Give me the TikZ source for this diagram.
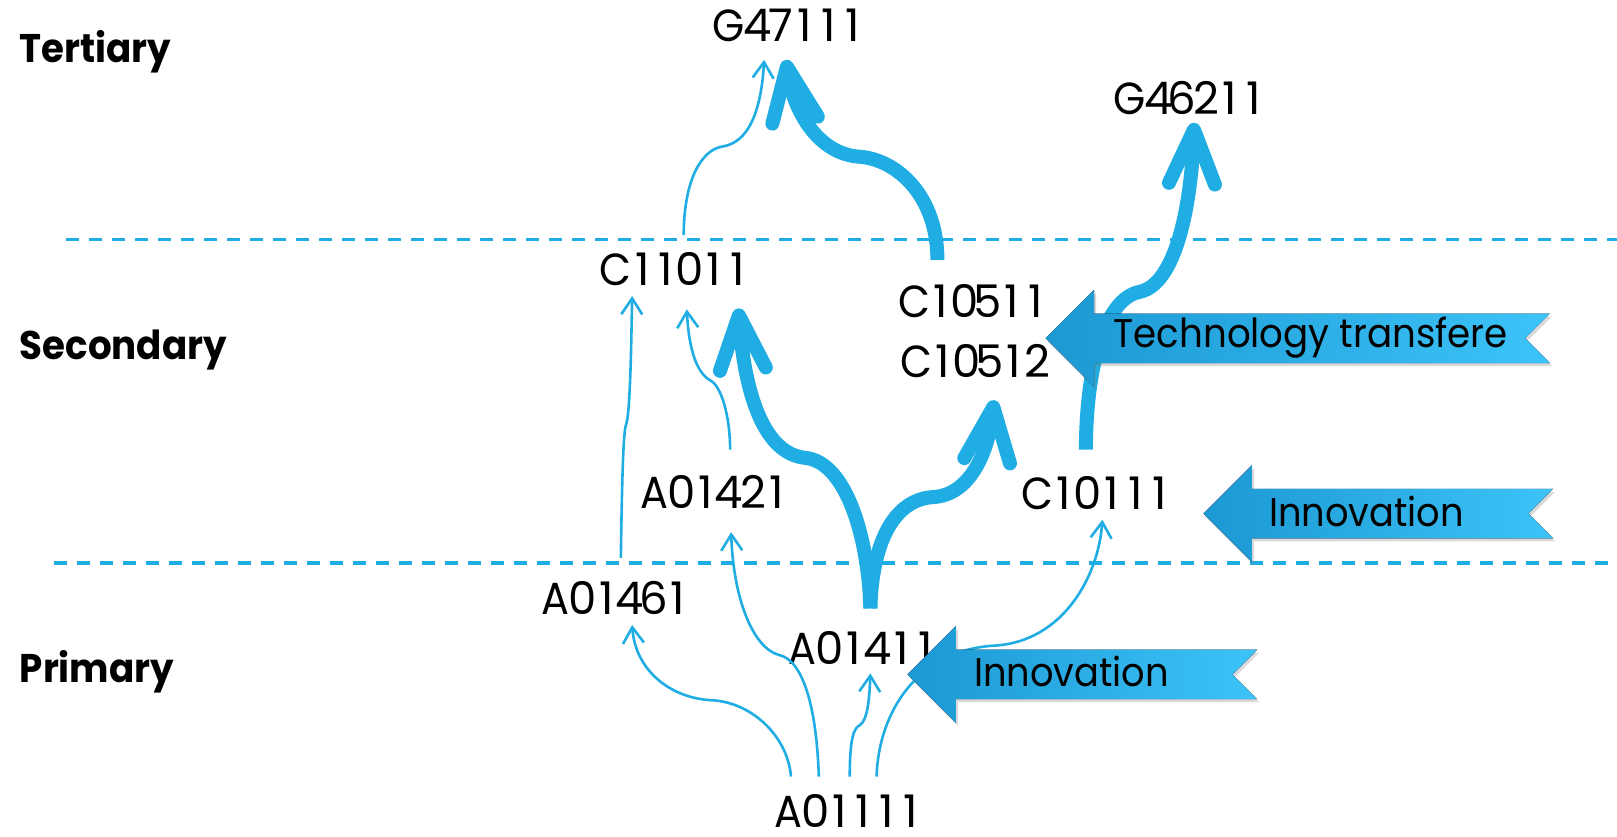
\documentclass[tikz,border=0pt]{standalone}
\usepackage{fontspec}
\setmainfont{Poppins}
\newfontfamily\labfont{Poppins}
\usetikzlibrary{arrows.meta,shadows}
\definecolor{flow}{RGB}{31,173,227}
\definecolor{bandL}{RGB}{28,152,210}
\definecolor{bandR}{RGB}{60,195,248}
\newcommand\ribbonshape[3]{%
  \fill[band] (#1,#2) -- (#1+47,#2-47) -- (#1+47,#2-24) -- (#3,#2-24) -- (#3-24,#2)
    -- (#3,#2+24) -- (#1+47,#2+24) -- (#1+47,#2+47) -- cycle;}
\newcommand\narrow[2]{\scalebox{#1}[1]{#2}}
\newcommand\mono[1]{\monoloop#1\relax}
\def\monoloop#1{\ifx\relax#1\else\makebox[23.8pt][c]{#1}\expandafter\monoloop\fi}
\newcommand\code[3][34pt]{\makebox[#1][c]{\scalebox{0.92}[1]{#2}}\mono{#3}}
\begin{document}
\begin{tikzpicture}[x=1.0312pt,y=-1.0312pt,
  lbl/.style={inner sep=0pt, anchor=base, font=\labfont\fontsize{45}{52}\selectfont},
  tier/.style={inner sep=0pt, anchor=base west, font=\fontsize{40}{48}\selectfont\bfseries},
  thinflow/.style={draw=flow, line width=2.6pt, -{Straight Barb[length=16pt,width=21pt]}},
  thickflow/.style={draw=flow, line width=14pt, -{Straight Barb[round,length=54pt,width=46pt]}},
  sep/.style={draw=flow, line width=3.5pt, dash pattern=on 13pt off 10pt},
  band/.style={left color=bandL, right color=bandR, drop shadow={shadow xshift=2pt,shadow yshift=-3pt,opacity=.3}},
  bandtxt/.style={inner sep=0pt, anchor=base, font=\fontsize{40}{48}\selectfont}
]
\useasboundingbox (0,0) rectangle (1568,811);

% tier separators
\coordinate (d1a) at (64,232); \coordinate (d1b) at (1568,232);
\coordinate (d2a) at (52,546); \coordinate (d2b) at (1568,546);
\draw[sep] (d1a) -- (d1b);
\draw[sep] (d2a) -- (d2b);

% tier labels
\node[tier] (tert) at (19,61) {\narrow{0.93}{Tertiary}};
\node[tier] (seco) at (19,349) {\narrow{0.93}{Secondary}};
\node[tier] (prim) at (19,662) {\narrow{0.93}{Primary}};

% code labels
\node[lbl] (G47111) at (764,40) {\code{G}{47111}};
\node[lbl] (G46211) at (1153,111) {\code{G}{46211}};
\node[lbl] (C11011) at (655,277) {\code[29pt]{C}{11011}};
\node[lbl] (C10511) at (944,308) {\code[29pt]{C}{10511}};
\node[lbl] (C10512) at (946,366) {\code[29pt]{C}{10512}};
\node[lbl] (A01421) at (692,493) {\code[31pt]{A}{01421}};
\node[lbl] (C10111) at (1064,494) {\code[29pt]{C}{10111}};
\node[lbl] (A01461) at (596,596) {\code[31pt]{A}{01461}};
\node[lbl] (A01411) at (836,644) {\code[31pt]{A}{01411}};
\node[lbl] (A01111) at (822,802) {\code[31pt]{A}{01111}};

% connector end points
\coordinate (s1) at (767,753); \coordinate (t1) at (613,606);
\coordinate (s2) at (794,753); \coordinate (t2) at (709,516);
\coordinate (s3) at (824,753); \coordinate (t3) at (844,653);
\coordinate (s4) at (850,753); \coordinate (t4) at (1069,504);
\coordinate (s5) at (602,541); \coordinate (t5) at (613,287);
\coordinate (s6) at (708,436); \coordinate (t6) at (666,300);
\coordinate (s7) at (663,228); \coordinate (t7) at (741,58);
\coordinate (stem) at (844,590);
\coordinate (t8) at (716,299);
\coordinate (t9) at (964,388);
\coordinate (s10) at (909,252); \coordinate (t10) at (762,58);
\coordinate (s11) at (1053,436); \coordinate (t11) at (1158,119);

% thin connectors
\draw[thinflow] (s1) .. controls (764,715) and (730,681) .. (690,679) .. controls (650,677) and (616,650) .. (t1);
\draw[thinflow] (s2) .. controls (792,690) and (780,640) .. (755,635) .. controls (730,628) and (711,580) .. (t2);
\draw[thinflow] (s3) .. controls (824,715) and (828,706) .. (834,703) .. controls (841,698) and (843,680) .. (t3);
\draw[thinflow] (s4) .. controls (852,690) and (890,630) .. (965,626) .. controls (1030,622) and (1065,560) .. (t4);
\draw[thinflow] (s5) .. controls (603,480) and (604,420) .. (607,412) .. controls (611,402) and (612,340) .. (t5);
\draw[thinflow] (s6) .. controls (708,405) and (700,375) .. (689,369) .. controls (676,362) and (668,340) .. (t6);
\draw[thinflow] (s7) .. controls (663,175) and (680,145) .. (701,142) .. controls (725,138) and (738,110) .. (t7);

% thick connectors
\draw[thickflow] (stem) .. controls (842,520) and (820,448) .. (781,444) .. controls (740,440) and (722,380) .. (t8);
\draw[thickflow] (stem) .. controls (846,520) and (870,484) .. (905,482) .. controls (940,480) and (958,440) .. (t9);
\draw[thickflow] (s10) .. controls (909,190) and (870,155) .. (834,152) .. controls (795,150) and (770,110) .. (t10);
\draw[thickflow] (s11) .. controls (1053,360) and (1070,290) .. (1105,283) .. controls (1140,276) and (1155,200) .. (t11);

% banners
\ribbonshape{1014}{328}{1503}
\ribbonshape{1167}{498}{1506}
\ribbonshape{880}{654}{1219}
\node[bandtxt] (tt) at (1271,337) {\narrow{0.93}{Technology transfere}};
\node[bandtxt] (inn1) at (1325,511) {\narrow{0.92}{Innovation}};
\node[bandtxt] (inn2) at (1039,666) {\narrow{0.92}{Innovation}};
\end{tikzpicture}
\end{document}
